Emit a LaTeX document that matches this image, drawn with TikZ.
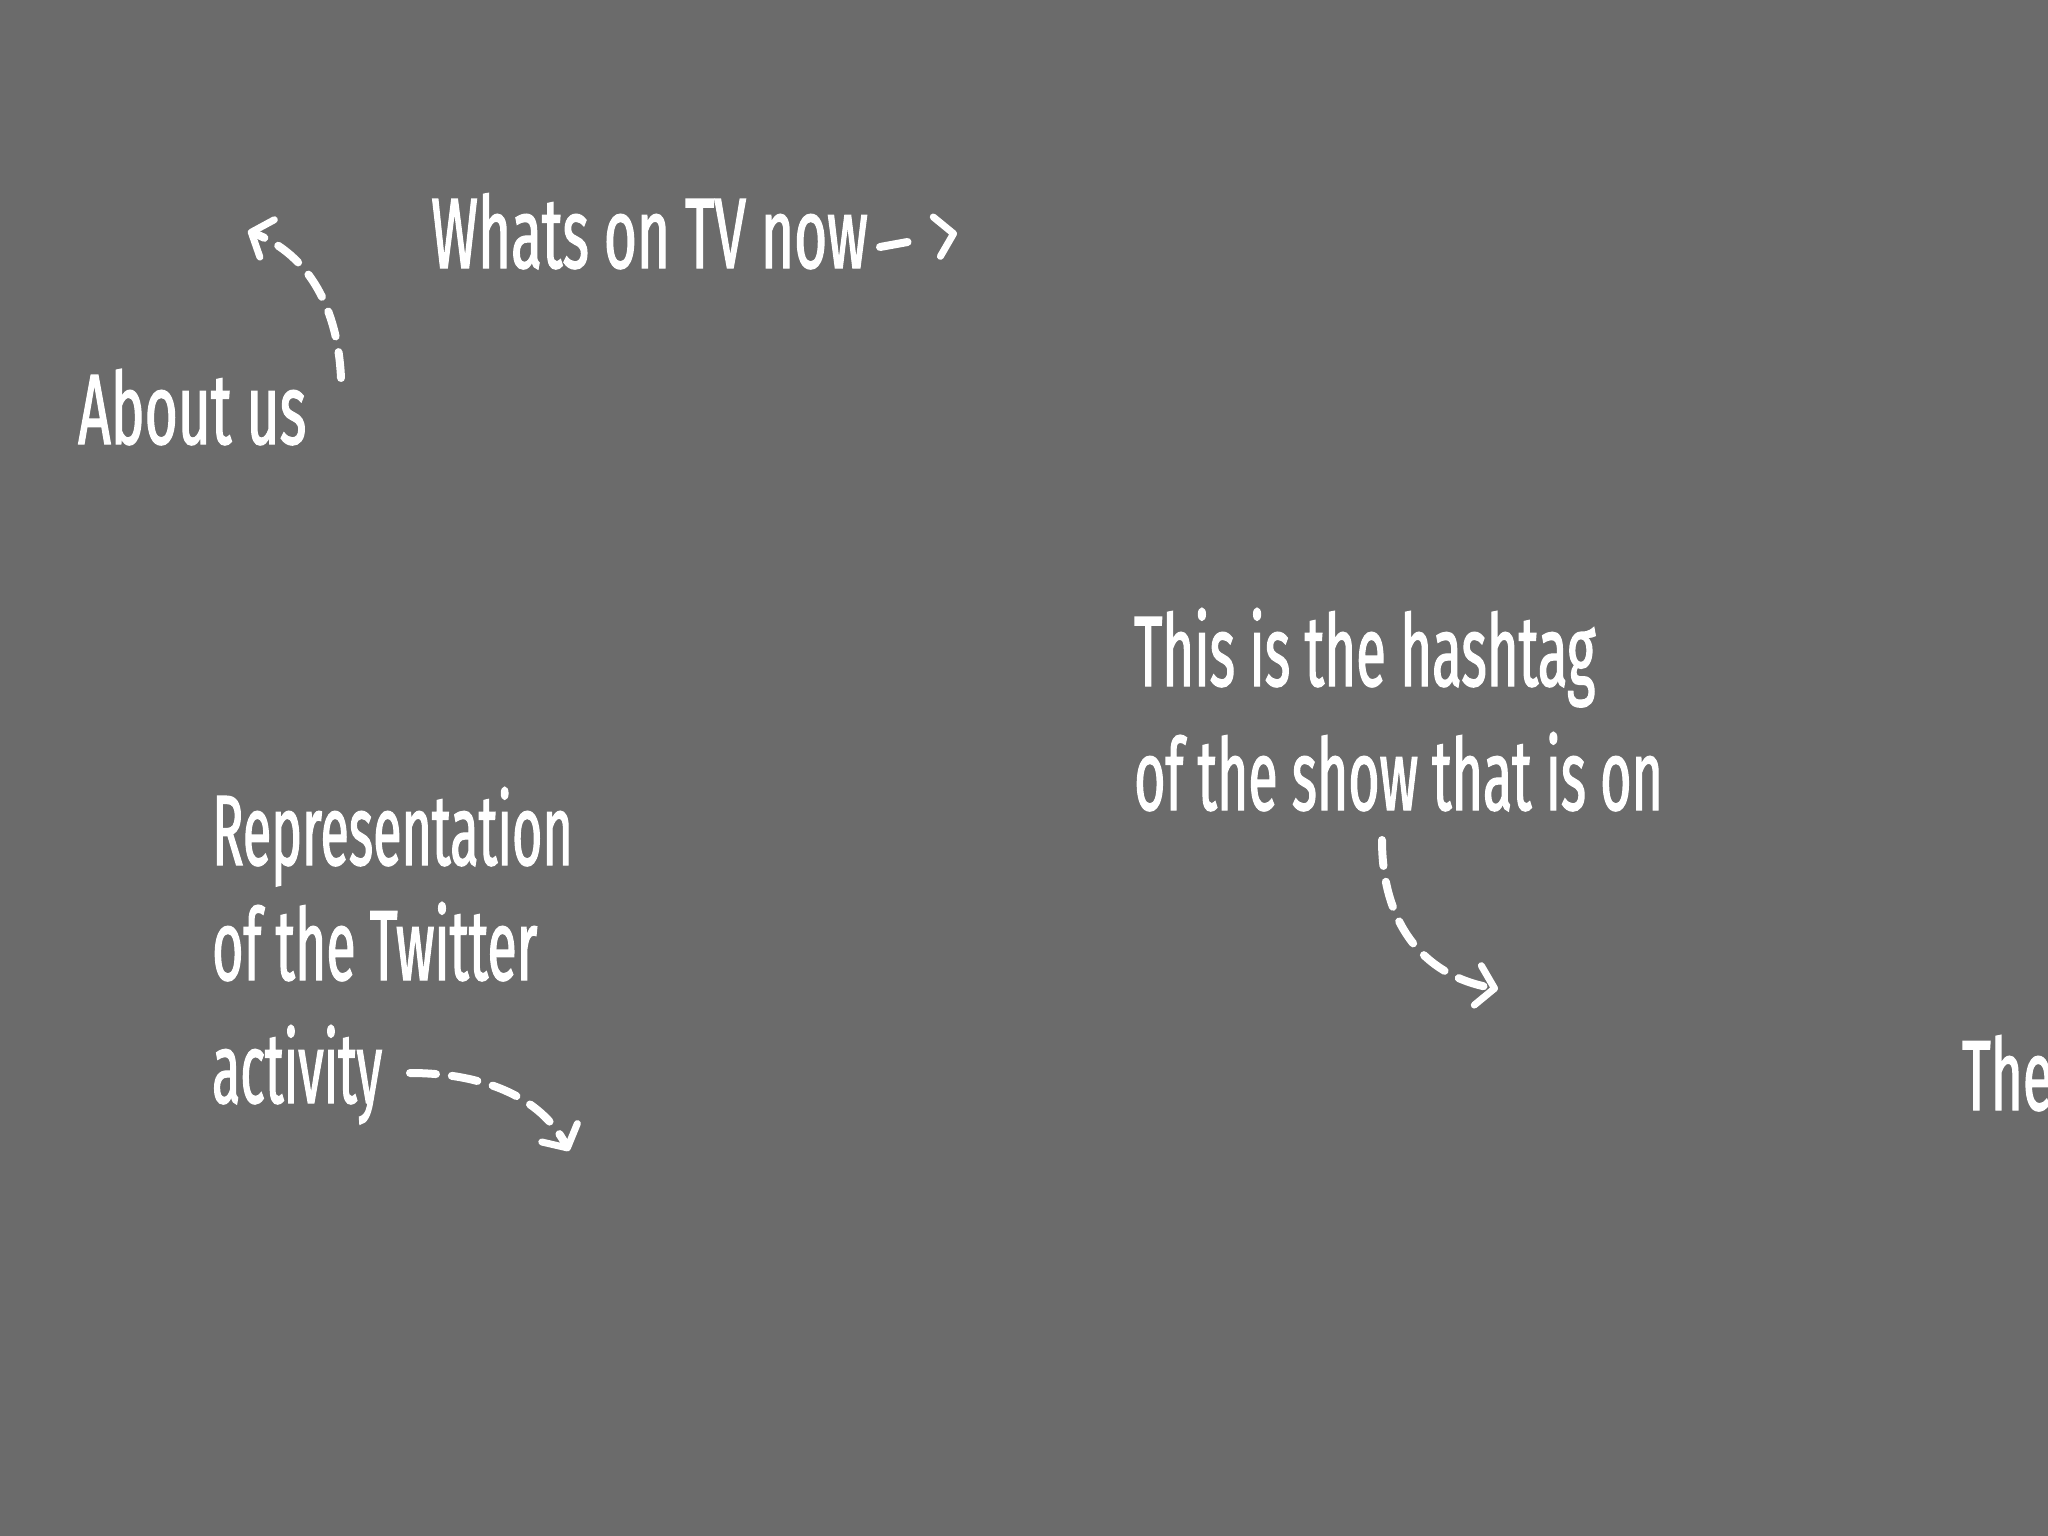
\documentclass[tikz,border=0pt]{standalone}
\usepackage{fontspec}
\newfontfamily\hand[FakeStretch=0.55,FakeBold=1.2]{Fira Sans}
\usetikzlibrary{arrows.meta}
\definecolor{bg}{RGB}{107,107,107}
\newcommand{\sx}[2]{\scalebox{#1}[1]{#2}}
\begin{document}
\begin{tikzpicture}[x=1pt,y=-1pt,
  lbl/.style={anchor=base west, inner sep=0pt, text=white, font=\hand\fontsize{100}{120}\selectfont},
  darrow/.style={draw=white, line width=8pt, line cap=round, dash pattern=on 26pt off 16pt,
    -{Straight Barb[length=17pt,width=40pt,line width=7pt,round]}}]
\fill[bg] (0,0) rectangle (2048,1536);
\useasboundingbox (0,0) rectangle (2048,1536);

\node[lbl] (whats) at (431,268) {\sx{1.03}{Whats on TV now}};
\node[lbl] (about) at (78,444) {\sx{1.035}{About us}};
\node[lbl] (hash1) at (1134,686) {\sx{0.99}{This is the hashtag}};
\node[lbl] (hash2) at (1134,810) {\sx{0.975}{of the show that is on}};
\node[lbl] (rep1) at (212,865) {\sx{0.945}{Representation}};
\node[lbl] (rep2) at (212,980) {\sx{0.975}{of the Twitter}};
\node[lbl] (rep3) at (212,1103) {\sx{0.94}{activity}};
\node[lbl] (the) at (1962,1110) {The};

\coordinate (a1s) at (880,247);
\coordinate (a1e) at (957,233);
\draw[darrow, dash pattern=on 28pt off 50pt] (a1s) -- (a1e);

\coordinate (a2s) at (341,378);
\coordinate (a2e) at (248,231);
\draw[darrow] (a2s) .. controls (338,310) and (310,255) .. (a2e);

\coordinate (a3s) at (1382,840);
\coordinate (a3e) at (1498,989);
\draw[darrow] (a3s) .. controls (1382,920) and (1420,975) .. (a3e);

\coordinate (a4s) at (410,1073);
\coordinate (a4e) at (569,1151);
\draw[darrow] (a4s) .. controls (480,1073) and (540,1095) .. (a4e);
\end{tikzpicture}
\end{document}
